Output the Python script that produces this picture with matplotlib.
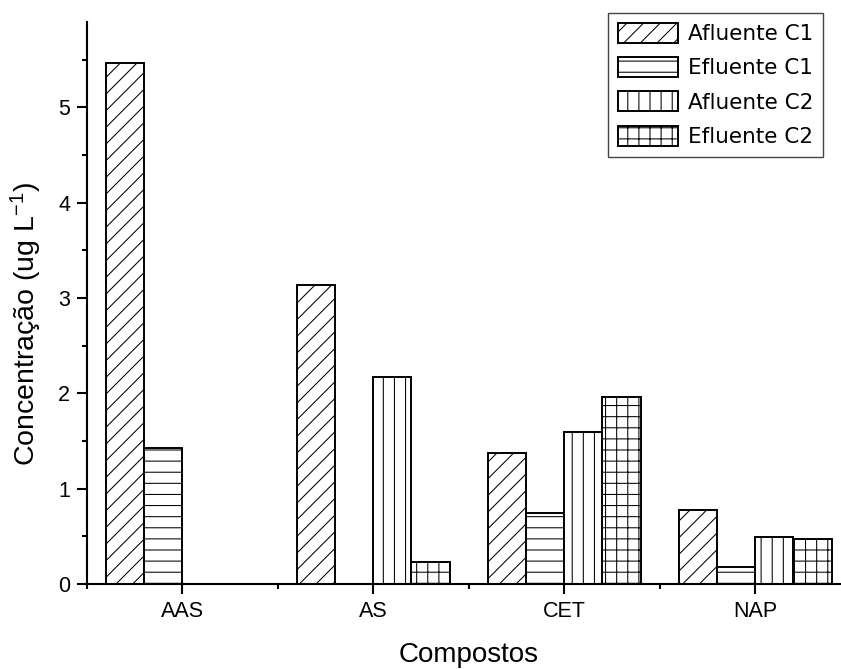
import numpy as np
import matplotlib
matplotlib.use('Agg')
import matplotlib.pyplot as plt
from matplotlib.ticker import MultipleLocator, FixedLocator

# Data
compounds = ['AAS', 'AS', 'CET', 'NAP']
afluente_c1 = [5.47, 3.14, 1.37, 0.78]
efluente_c1 = [1.425, 0.0, 0.745, 0.175]
afluente_c2 = [0.0, 2.175, 1.59, 0.49]
efluente_c2 = [0.0, 0.235, 1.965, 0.475]

labels = ['Afluente C1', 'Efluente C1', 'Afluente C2', 'Efluente C2']
hatches = ['////', '---', '|||', '+++']
series = [afluente_c1, efluente_c1, afluente_c2, efluente_c2]

# high dpi so the hatch spacing comes out close to the original;
# all sizes below are written as if at 100 dpi and scaled by S
DPI = 200
S = 100 / DPI

plt.rcParams['font.family'] = 'Liberation Sans'
plt.rcParams['mathtext.fontset'] = 'custom'
plt.rcParams['mathtext.rm'] = 'Liberation Sans'
plt.rcParams['mathtext.it'] = 'Liberation Sans:italic'
plt.rcParams['hatch.linewidth'] = 0.75 * S
plt.rcParams['hatch.color'] = 'black'

fig = plt.figure(figsize=(841 / DPI, 669 / DPI), dpi=DPI)
ax = fig.add_axes([0.1031, 0.1271, 0.9084, 0.8405])

x = np.arange(len(compounds))
width = 0.2
for i, vals in enumerate(series):
    ax.bar(x + (i - 1.5) * width, vals, width, label=labels[i],
           facecolor='white', edgecolor='black', linewidth=1.4 * S,
           hatch=hatches[i])

ax.set_xlim(-0.5, 3.5)
ax.set_ylim(0, 5.9)

ax.set_xticks(x)
ax.set_xticklabels(compounds)
ax.xaxis.set_minor_locator(FixedLocator([-0.5, 0.5, 1.5, 2.5, 3.5]))
ax.yaxis.set_major_locator(MultipleLocator(1))
ax.yaxis.set_minor_locator(MultipleLocator(0.5))

ax.spines['top'].set_visible(False)
ax.spines['right'].set_visible(False)
for s in ['left', 'bottom']:
    ax.spines[s].set_linewidth(1.5 * S)

ax.tick_params(which='major', length=7 * S, width=1.5 * S, labelsize=15.5 * S, pad=5 * S)
ax.tick_params(which='minor', length=3.6 * S, width=1.5 * S)

ax.set_xlabel('Compostos', fontsize=20 * S, labelpad=15 * S)
ax.set_ylabel(r'Concentração (ug L$^{\mathregular{-1}}$)', fontsize=20.5 * S)
ax.yaxis.set_label_coords(-0.056, 0.462)

leg = ax.legend(loc='upper right', bbox_to_anchor=(823 / 841, 1 - 13 / 669),
                bbox_transform=fig.transFigure,
                prop={'family': 'DejaVu Sans', 'size': 15.5 * S},
                handlelength=2.8, handleheight=1.06, labelspacing=0.6,
                handletextpad=0.45, borderpad=0.45, borderaxespad=0,
                fancybox=False, edgecolor='#444444', framealpha=1)
leg.get_frame().set_linewidth(1 * S)

fig.savefig('out.png', dpi=DPI)
